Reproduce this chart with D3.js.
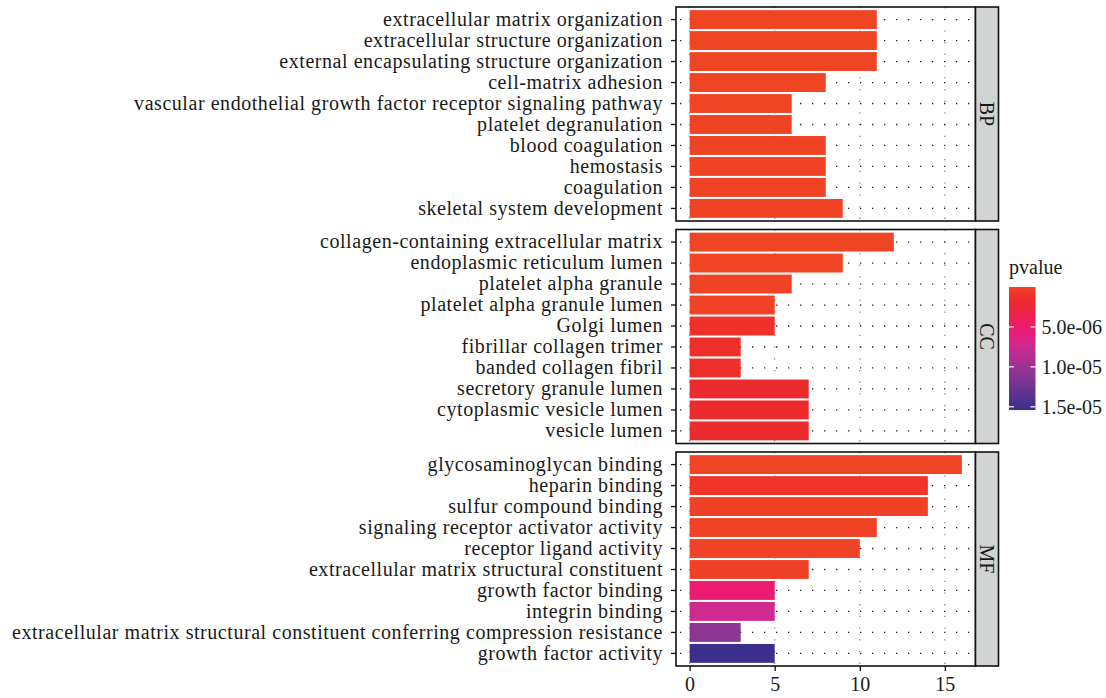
<!DOCTYPE html>
<html><head><meta charset="utf-8">
<script src="https://cdn.jsdelivr.net/npm/d3@7"></script>
<style>
html,body{margin:0;padding:0;background:#fff;}
svg text{font-family:"Liberation Serif","Times New Roman",serif;}
</style></head>
<body><svg id="chart" width="1106" height="698"></svg>
<script>
const ontologies = ["BP", "CC", "MF"];
const bpTerms = ["extracellular matrix organization","extracellular structure organization","external encapsulating structure organization","cell-matrix adhesion","vascular endothelial growth factor receptor signaling pathway","platelet degranulation","blood coagulation","hemostasis","coagulation","skeletal system development"];
const bpCounts = [11, 11, 11, 8, 6, 6, 8, 8, 8, 9];
const bpP = [1e-10, 1e-10, 1e-10, 2e-8, 5e-8, 8e-8, 1e-7, 1e-7, 1e-7, 1.2e-7];
const ccTerms = ["collagen-containing extracellular matrix","endoplasmic reticulum lumen","platelet alpha granule","platelet alpha granule lumen","Golgi lumen","fibrillar collagen trimer","banded collagen fibril","secretory granule lumen","cytoplasmic vesicle lumen","vesicle lumen"];
const ccCounts = [12, 9, 6, 5, 5, 3, 3, 7, 7, 7];
const ccP = [1e-10, 5e-8, 8e-8, 1.5e-7, 1.1e-6, 1.2e-6, 1.3e-6, 1.9e-6, 1.8e-6, 1.8e-6];
const mfTerms = ["glycosaminoglycan binding","heparin binding","sulfur compound binding","signaling receptor activator activity","receptor ligand activity","extracellular matrix structural constituent","growth factor binding","integrin binding","extracellular matrix structural constituent conferring compression resistance","growth factor activity"];
const mfCounts = [16, 14, 14, 11, 10, 7, 5, 5, 3, 5];
const mfP = [1e-10, 8e-7, 2e-7, 1e-7, 1.5e-7, 2e-7, 5.2e-6, 7.3e-6, 1.08e-5, 1.54e-5];
const xTicks = [0, 5, 10, 15];
const legendTicks = [5e-6, 1e-5, 1.5e-5];
const legendLabels = ["5.0e-06", "1.0e-05", "1.5e-05"];

const groups = [
  {name: ontologies[0], terms: bpTerms, counts: bpCounts, p: bpP},
  {name: ontologies[1], terms: ccTerms, counts: ccCounts, p: ccP},
  {name: ontologies[2], terms: mfTerms, counts: mfCounts, p: mfP}
];

const svg = d3.select("#chart");
const allCounts = bpCounts.concat(ccCounts, mfCounts);
const allP = bpP.concat(ccP, mfP);
const cMax = d3.max(allCounts);
const pMin = d3.min(allP), pMax = d3.max(allP);

const panelL = 676, panelR = 975.5, stripW = 23;
const panelH = 214, panelGap = 8.5, panelTop = 7;
const x = d3.scaleLinear().domain([-0.05 * cMax, cMax * 1.05]).range([panelL, panelR]);

const color = d3.scaleLinear()
  .domain([0, 1.1e-6, 2e-6, 5.2e-6, 7.3e-6, 1.08e-5, 1.54e-5])
  .range(["#f04525", "#ee2f2a", "#ec2a30", "#ed1a72", "#cf2a8f", "#8c3593", "#3c2f8c"])
  .clamp(true);

const FS = 20, LS = "0.55px";

groups.forEach((g, gi) => {
  const top = panelTop + gi * (panelH + panelGap);
  const bottom = top + panelH;
  const y = d3.scaleBand().domain(g.terms).range([top, bottom]).paddingInner(0.1).paddingOuter(0.15);
  const pg = svg.append("g");
  // background
  pg.append("rect").attr("x", panelL).attr("y", top).attr("width", panelR - panelL).attr("height", panelH).attr("fill", "#fff");
  // vertical grid
  pg.selectAll(".vg").data(xTicks).join("line")
    .attr("x1", d => x(d)).attr("x2", d => x(d)).attr("y1", top).attr("y2", bottom)
    .attr("stroke", "#8a8a8a").attr("stroke-width", 1.3).attr("stroke-dasharray", "1.3,10.4");
  // horizontal grid
  pg.selectAll(".hg").data(g.terms).join("line")
    .attr("x1", panelL).attr("x2", panelR)
    .attr("y1", d => y(d) + y.bandwidth() / 2).attr("y2", d => y(d) + y.bandwidth() / 2)
    .attr("stroke", "#222").attr("stroke-width", 1.3).attr("stroke-dasharray", "1.3,10.7").attr("stroke-dashoffset", -4);
  // bars
  pg.selectAll(".bar").data(g.terms).join("rect")
    .attr("x", x(0)).attr("y", d => y(d))
    .attr("width", (d, i) => x(g.counts[i]) - x(0)).attr("height", y.bandwidth())
    .attr("fill", (d, i) => color(g.p[i]));
  // border
  pg.append("rect").attr("x", panelL).attr("y", top).attr("width", panelR - panelL).attr("height", panelH)
    .attr("fill", "none").attr("stroke", "#111").attr("stroke-width", 1.6);
  // strip
  pg.append("rect").attr("x", panelR).attr("y", top).attr("width", stripW).attr("height", panelH)
    .attr("fill", "#d2d3d3").attr("stroke", "#111").attr("stroke-width", 1.6);
  pg.append("text").attr("transform", `translate(${panelR + stripW / 2},${top + panelH / 2}) rotate(90)`)
    .attr("text-anchor", "middle").attr("dominant-baseline", "central")
    .attr("font-size", FS).attr("fill", "#1a1a1a").text(g.name);
  // y ticks + labels
  const yAxis = d3.axisLeft(y).tickSize(5).tickPadding(8);
  const ya = pg.append("g").attr("transform", `translate(${panelL},0)`).call(yAxis);
  ya.select(".domain").remove();
  ya.selectAll(".tick line").attr("stroke", "#111").attr("stroke-width", 1.3);
  ya.selectAll(".tick text").attr("font-size", FS).attr("fill", "#1a1a1a")
    .attr("font-family", "Liberation Serif").style("letter-spacing", LS);
  if (gi === groups.length - 1) {
    const xAxis = d3.axisBottom(x).tickValues(xTicks).tickSize(5).tickPadding(6).tickFormat(d3.format("d"));
    const xa = pg.append("g").attr("transform", `translate(0,${bottom})`).call(xAxis);
    xa.select(".domain").remove();
    xa.selectAll(".tick line").attr("stroke", "#111").attr("stroke-width", 1.3);
    xa.selectAll(".tick text").attr("font-size", FS).attr("fill", "#1a1a1a").attr("font-family", "Liberation Serif");
  }
});

// legend
const lgX = 1009, lgW = 26.5, lgTop = 287, lgBot = 410;
const ly = d3.scaleLinear().domain([0, pMax]).range([lgTop, lgBot]);
const defs = svg.append("defs");
const grad = defs.append("linearGradient").attr("id", "pgrad").attr("x1", 0).attr("x2", 0).attr("y1", 0).attr("y2", 1);
d3.range(0, 1.0001, 0.02).forEach(t => {
  grad.append("stop").attr("offset", t).attr("stop-color", color(t * pMax));
});
svg.append("text").attr("x", lgX).attr("y", 274).attr("font-size", FS).attr("fill", "#1a1a1a").text("pvalue");
svg.append("rect").attr("x", lgX).attr("y", lgTop).attr("width", lgW).attr("height", lgBot - lgTop).attr("fill", "url(#pgrad)");
const lt = svg.append("g");
legendTicks.forEach((v, i) => {
  const yy = ly(v);
  lt.append("line").attr("x1", lgX).attr("x2", lgX + 5).attr("y1", yy).attr("y2", yy).attr("stroke", "#fff").attr("stroke-width", 1.2);
  lt.append("line").attr("x1", lgX + lgW - 5).attr("x2", lgX + lgW).attr("y1", yy).attr("y2", yy).attr("stroke", "#fff").attr("stroke-width", 1.2);
  lt.append("text").attr("x", lgX + lgW + 6).attr("y", yy).attr("dominant-baseline", "central")
    .attr("font-size", FS).attr("fill", "#1a1a1a").text(legendLabels[i]);
});
</script></body></html>
